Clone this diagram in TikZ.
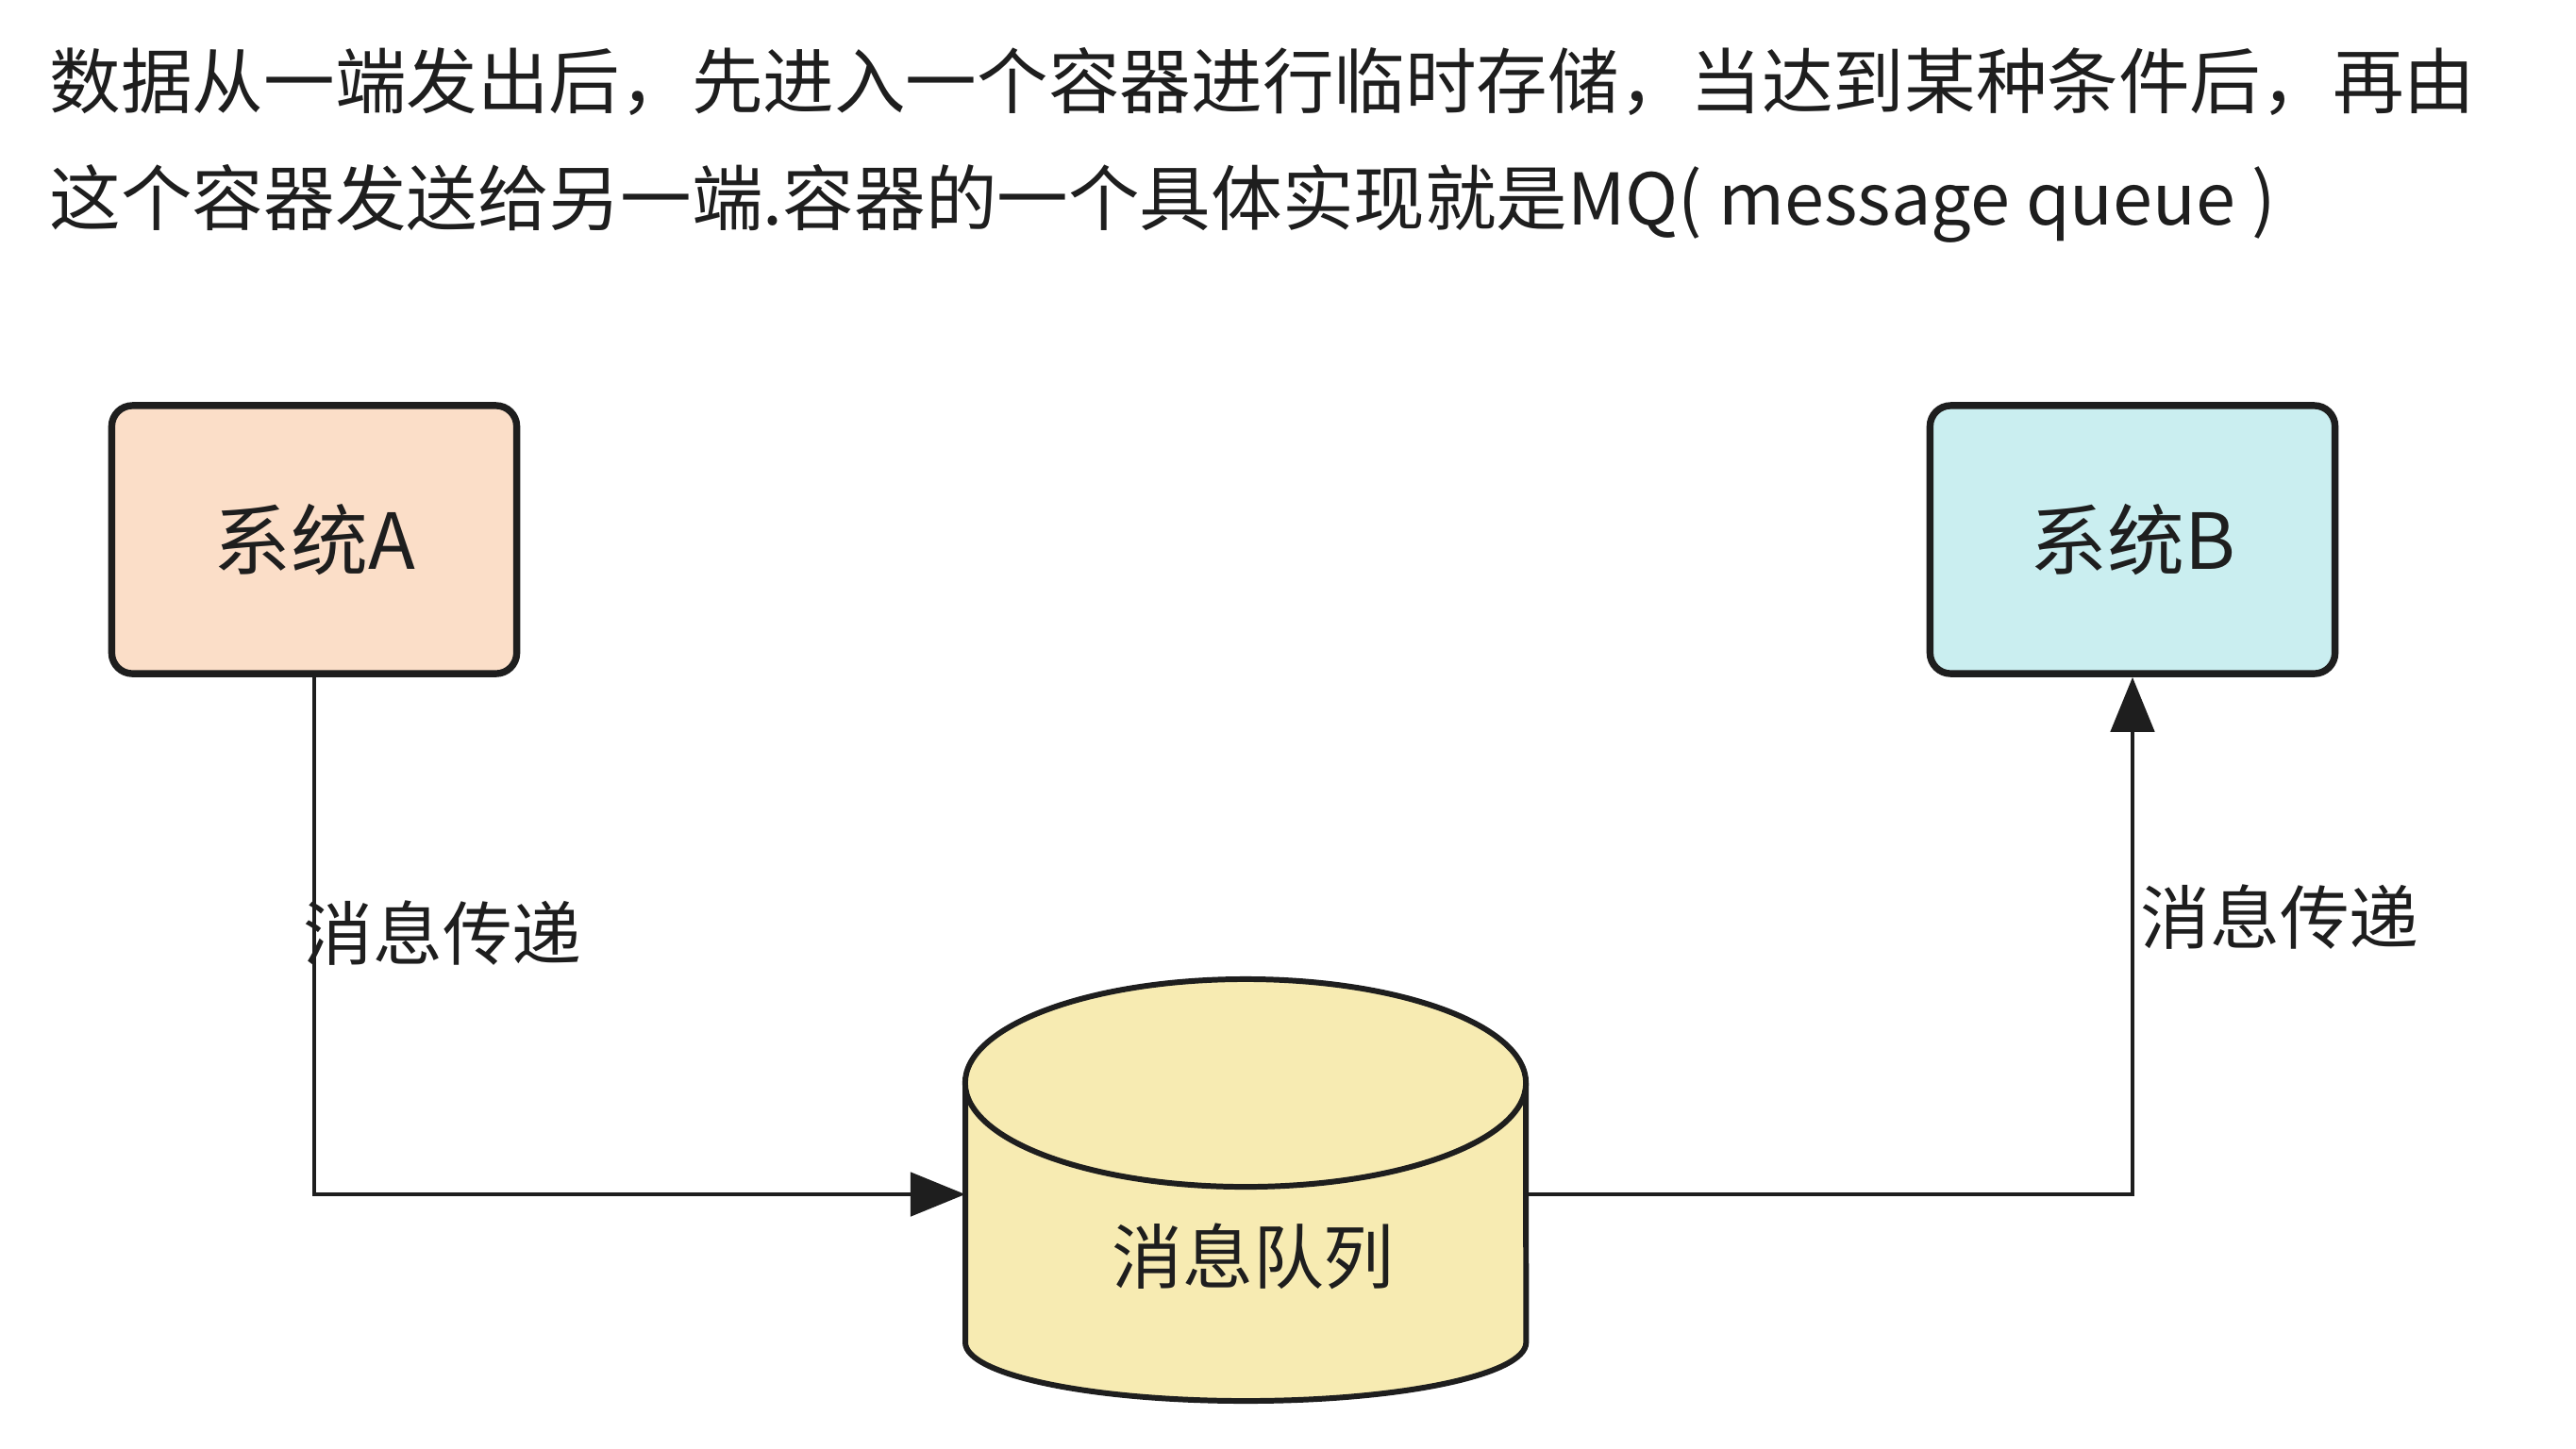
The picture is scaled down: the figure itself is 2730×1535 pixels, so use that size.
\documentclass[tikz,border=0pt]{standalone}
\usepackage{fontspec}
\setmainfont{Noto Sans CJK SC}
\usetikzlibrary{calc, positioning}
\usetikzlibrary{arrows.meta}

\definecolor{inkline}{HTML}{1E1E1E}
\definecolor{peach}{HTML}{FBDEC8}
\definecolor{paleblue}{HTML}{CAEEF0}
\definecolor{paleyellow}{HTML}{F7EBB2}

\tikzset{
  sysbox/.style={draw=inkline, line width=2.1pt, rounded corners=0.22cm,
    minimum width=4.29cm, minimum height=2.84cm,
    font=\fontsize{23.3pt}{27pt}\selectfont, text=inkline},
  flow/.style={draw=inkline, line width=1.4pt,
    -{Triangle[length=0.58cm, width=0.46cm]}},
  lbl/.style={font=\fontsize{21pt}{24pt}\selectfont, text=inkline, inner sep=0pt},
  headline/.style={anchor=west, inner sep=0pt,
    font=\fontsize{21.5pt}{25pt}\selectfont, text=inkline}
}

\begin{document}
\begin{tikzpicture}[x=0.01cm, y=-0.01cm]
\def\qx{1320}
\def\qtop{1148}
\def\qbot{1423}
\def\qL{1023}
\def\qR{1617}
\def\flowy{1266}

\useasboundingbox (0,0) rectangle (2730,1535);

\node[headline] (line1) at (52,87) {数据从一端发出后，先进入一个容器进行临时存储，当达到某种条件后，再由};
\node[headline] (line2) at (52,216) {这个容器发送给另一端.容器的一个具体实现就是MQ( message queue )};

\node[sysbox, fill=peach] (sysA) at (333,572) {系统A};
\node[sysbox, fill=paleblue] (sysB) at (2260,572) {系统B};

% message queue cylinder
\fill[paleyellow] (\qL,\qtop) -- (\qL,\qbot)
  arc[start angle=180, end angle=360, x radius=2.97cm, y radius=0.62cm]
  -- (\qR,\qtop) -- cycle;
\draw[inkline, line width=1.7pt] (\qL,\qtop) -- (\qL,\qbot)
  arc[start angle=180, end angle=360, x radius=2.97cm, y radius=0.62cm]
  -- (\qR,\qtop);
\filldraw[fill=paleyellow, draw=inkline, line width=1.7pt]
  (\qx,\qtop) ellipse[x radius=2.97cm, y radius=1.1cm];
\node[font=\fontsize{21.3pt}{24pt}\selectfont, text=inkline] (mq) at (1328,1332) {消息队列};

\coordinate (mqin) at (\qL,\flowy);
\coordinate (mqout) at (\qR,\flowy);

\draw[flow] (sysA.south) |- (mqin);
\draw[flow] (mqout) -| (sysB.south);

\node[lbl] (sendA) at (469,989) {消息传递};
\node[lbl] (sendB) at (2416,972) {消息传递};
\end{tikzpicture}
\end{document}
